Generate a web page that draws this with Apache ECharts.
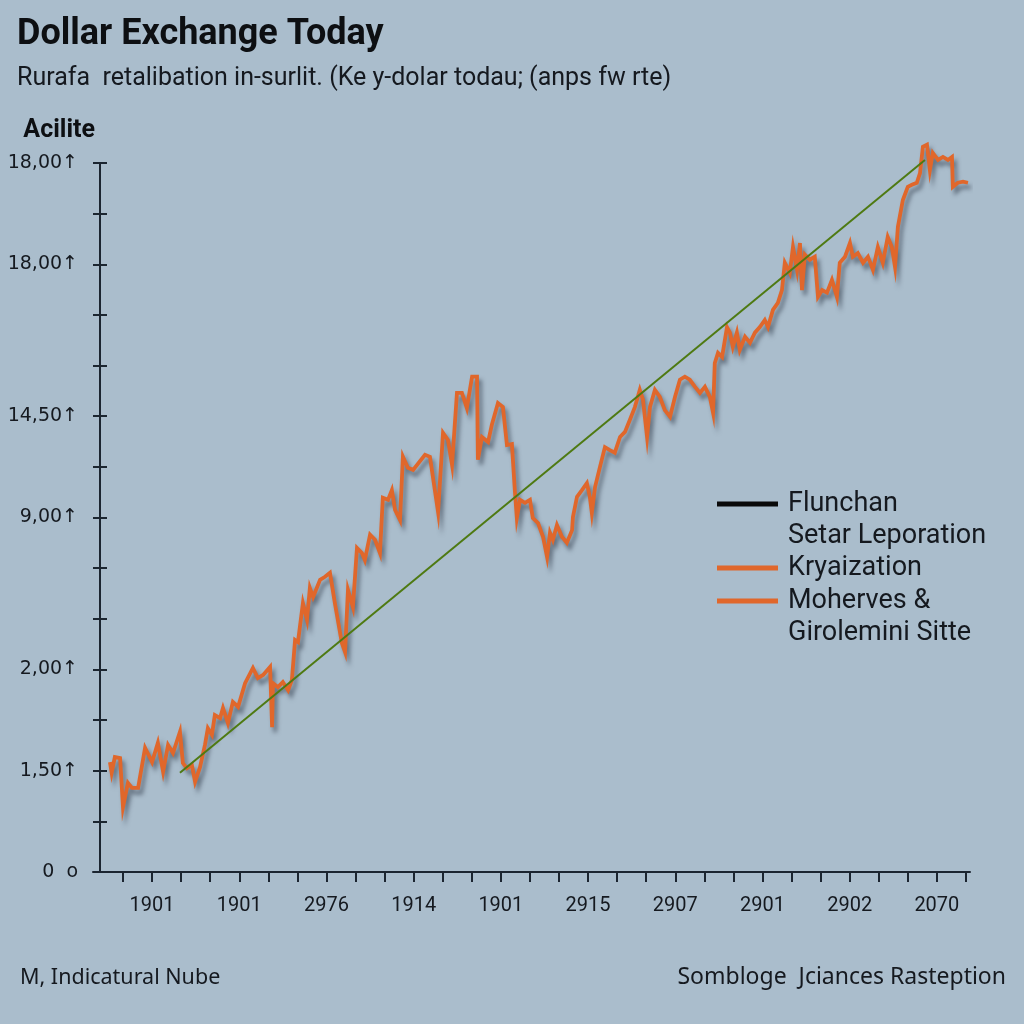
<!DOCTYPE html>
<html>
<head>
<meta charset="utf-8">
<script src="https://cdn.jsdelivr.net/npm/echarts@6/dist/echarts.min.js"></script>
<style>
html,body{margin:0;padding:0;background:#aabdcc;}
#chart{width:1024px;height:1024px;}
</style>
</head>
<body>
<div id="chart"></div>
<script>
// ---- data (x in tick units, y in axis units) ----
const xTickLabels = ['1901','1901','2976','1914','1901','2915','2907','2901','2902','2070'];
const yTickLabels = ['0  o','','1,50\u2191','','2,00\u2191','','','9,00\u2191','','14,50\u2191','','','18,00\u2191','','18,00\u2191'];

const rateX = [-0.45,-0.39,-0.28,-0.10,0.00,0.17,0.31,0.52,0.76,1.00,1.20,1.38,1.55,1.72,1.96,2.06,2.20,2.37,2.48,2.65,
2.82,2.92,3.06,3.16,3.34,3.44,3.61,3.78,3.96,4.20,4.47,4.64,4.82,5.06,5.13,5.16,5.33,5.50,5.68,5.81,
5.92,6.02,6.19,6.33,6.43,6.54,6.78,6.95,7.12,7.29,7.53,7.64,7.74,7.91,8.05,8.22,8.32,8.50,8.67,8.84,
8.94,9.12,9.25,9.36,9.53,9.63,9.80,9.98,10.39,10.56,10.84,11.01,11.18,11.32,11.49,11.66,11.83,12.01,12.18,12.21,
12.35,12.56,12.69,12.90,13.07,13.21,13.38,13.48,13.55,13.66,13.83,14.00,14.10,14.28,14.45,14.59,14.69,14.79,14.93,15.10,
15.27,15.45,15.48,15.62,15.79,15.96,16.06,16.13,16.24,16.41,16.58,16.75,16.92,17.10,17.27,17.44,17.61,17.78,17.89,18.03,
18.13,18.30,18.47,18.64,18.82,18.99,19.16,19.33,19.50,19.68,19.85,20.02,20.19,20.30,20.36,20.47,20.61,20.78,20.88,20.98,
21.12,21.22,21.40,21.57,21.74,21.91,22.08,22.19,22.36,22.53,22.67,22.77,22.94,23.05,23.19,23.29,23.36,23.46,23.63,23.80,
23.91,24.05,24.22,24.39,24.56,24.66,24.84,25.01,25.11,25.28,25.46,25.63,25.80,25.97,26.14,26.31,26.45,26.56,26.66,26.83,
27.00,27.14,27.31,27.42,27.52,27.66,27.76,27.86,28.04,28.21,28.38,28.52,28.55,28.72,28.90,29.07];
const rateY = [2.17,1.96,2.27,2.25,1.28,1.76,1.66,1.66,2.45,2.17,2.55,1.98,2.51,2.35,2.77,2.15,2.05,2.11,1.78,2.07,
2.51,2.84,2.71,3.10,3.04,3.24,2.94,3.36,3.26,3.73,4.03,3.83,3.89,4.05,2.86,3.73,3.65,3.75,3.59,3.79,
4.58,4.54,5.31,4.98,5.61,5.43,5.77,5.83,5.91,5.31,4.52,4.34,5.57,5.23,6.40,6.30,6.16,6.66,6.56,6.30,
7.39,7.35,7.54,7.15,6.95,8.20,7.98,7.94,8.24,8.20,7.11,8.67,8.53,8.04,9.46,9.46,9.16,9.78,9.78,8.14,
8.59,8.49,8.83,9.26,9.18,8.43,8.45,7.54,6.99,7.35,7.29,7.35,6.99,6.89,6.62,6.22,6.70,6.56,6.85,6.62,
6.50,6.75,7.01,7.41,7.54,7.68,7.41,7.09,7.60,8.00,8.39,8.33,8.28,8.59,8.69,8.93,9.18,9.52,9.32,8.59,
9.18,9.52,9.38,9.12,8.99,9.38,9.72,9.78,9.72,9.58,9.46,9.58,9.38,9.07,10.05,10.25,10.17,10.76,10.65,10.37,
10.65,10.31,10.57,10.45,10.65,10.76,10.90,10.76,11.10,11.24,11.49,12.03,11.83,12.34,11.89,12.42,11.49,12.19,12.09,12.15,
11.36,11.49,11.44,11.69,11.36,12.03,12.15,12.42,12.15,12.22,12.03,12.15,11.89,12.34,12.03,12.54,12.34,11.95,12.74,13.27,
13.53,13.57,13.61,13.80,14.32,14.36,13.86,14.20,14.06,14.12,14.06,14.12,13.53,13.61,13.63,13.61];

const trendX = [1.96, 27.59];
const trendY = [1.96, 14.06];

const legendNames = ['Flunchan','Kryaization','Moherves &'];
const legendSecondLines = {'Flunchan':'Setar Leporation','Moherves &':'Girolemini Sitte'};

// ---- chart ----
const AX = '#1b2530';
const ORANGE = '#e0672b';
const chart = echarts.init(document.getElementById('chart'), null, {renderer:'canvas'});

const ticks = [];
for (let i = 0; i <= 29; i++) ticks.push(i);
const labelTicks = xTickLabels.map((_, i) => 1 + 3 * i);

// a blank first line keeps the legend icon level with the first text line
function legendFmt(name){
  return legendSecondLines[name] ? ' \n' + name + '\n' + legendSecondLines[name] : name;
}
const legText = {fontFamily:'Roboto', fontSize:27, color:'#15191f', lineHeight:32, padding:[0,0,0,5]};

function legendAt(name, color, top){
  return {data:[{name:name, itemStyle:{color:color}}], left:717, top:top, padding:0, orient:'vertical',
    icon:'rect', itemWidth:61, itemHeight:5, selectedMode:false, formatter:legendFmt, textStyle:legText};
}

chart.setOption({
  backgroundColor:'#aabdcc',
  animation:false,
  title:{
    text:'Dollar Exchange Today',
    subtext:'Rurafa  retalibation in-surlit. (Ke y-dolar todau; (anps fw rte)',
    left:12, top:12, itemGap:13,
    textStyle:{fontFamily:'Roboto', fontWeight:'bold', fontSize:36, color:'#0d0f12'},
    subtextStyle:{fontFamily:'Roboto', fontSize:25, color:'#15191f'}
  },
  grid:{left:93, right:54, top:163, bottom:152},
  xAxis:{
    type:'value', min:-1.032, max:29.14,
    axisLine:{show:true, onZero:false, lineStyle:{color:AX, width:2}},
    axisTick:{show:true, customValues:ticks, length:10, lineStyle:{color:AX, width:2}},
    axisLabel:{show:true, customValues:labelTicks, margin:24,
      formatter:function(v){ const i = labelTicks.indexOf(Math.round(v)); return i >= 0 ? xTickLabels[i] : ''; },
      fontFamily:'Roboto', fontSize:20, color:'#15191f'},
    splitLine:{show:false}
  },
  yAxis:[{
    type:'value', min:0, max:14, interval:1, offset:-7,
    name:'Acilite', nameLocation:'end', nameGap:20,
    nameTextStyle:{fontFamily:'Roboto', fontWeight:'bold', fontSize:25, color:'#0d0f12', align:'right', padding:[0,5,0,0]},
    axisLine:{show:true, onZero:false, lineStyle:{color:AX, width:2}},
    axisTick:{show:true, length:7, lineStyle:{color:AX, width:2}},
    axisLabel:{margin:22, fontFamily:'DejaVu Sans', fontSize:19, color:'#15191f',
      formatter:function(v){ return yTickLabels[Math.round(v)] || ''; }},
    splitLine:{show:false}
  },{
    // right-hand half of the crossing y ticks
    type:'value', min:0, max:14, interval:1, offset:-14, position:'left',
    axisLine:{show:true, onZero:false, lineStyle:{color:'rgba(0,0,0,0)', width:1}},
    axisTick:{show:true, length:7, lineStyle:{color:AX, width:2}},
    axisLabel:{show:false},
    splitLine:{show:false}
  }],
  legend:[
    legendAt('Flunchan', '#0a0a0a', 456),
    legendAt('Kryaization', ORANGE, 552),
    legendAt('Moherves &', ORANGE, 553)
  ],
  series:[
    {name:'Flunchan', type:'line', data:[], color:'#0a0a0a', showSymbol:false},
    {name:'Kryaization', type:'line', color:ORANGE, showSymbol:false, symbol:'none', clip:false,
     data: rateX.map((x,i)=>[x, rateY[i]]),
     lineStyle:{width:3.8, color:ORANGE, join:'miter', shadowColor:'rgba(45,55,70,0.55)', shadowBlur:4, shadowOffsetX:3, shadowOffsetY:5},
     z:3},
    {name:'Moherves &', type:'line', yAxisIndex:1, color:'#4e7a12', showSymbol:false, symbol:'none', clip:false,
     data: trendX.map((x,i)=>[x, trendY[i]]),
     lineStyle:{width:2, color:'#4e7a12'}, z:4}
  ],
  graphic:[
    {type:'text', left:20, top:967, style:{text:'M, Indicatural Nube', font:'21.5px "Noto Sans"', fill:'#15191f'}},
    {type:'text', right:18, top:966, style:{text:'Sombloge  Jciances Rasteption', font:'23px "Noto Sans"', fill:'#15191f'}}
  ]
});
</script>
</body>
</html>
